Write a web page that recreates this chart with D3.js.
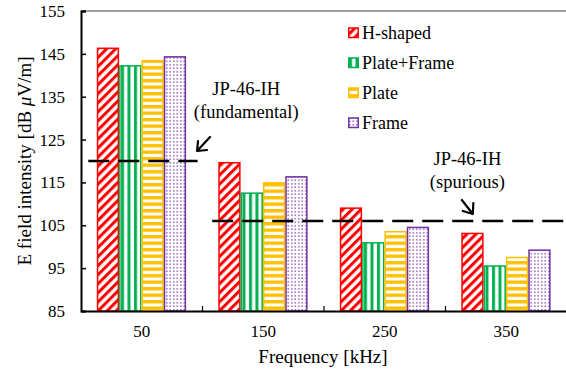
<!DOCTYPE html>
<html>
<head>
<meta charset="utf-8">
<script src="https://cdn.jsdelivr.net/npm/d3@7"></script>
<style>
	body { margin: 0; background: #fff; }
	svg { display: block; }
	svg text { font-family: 'Liberation Serif', 'Times New Roman', serif; }
</style>
</head>
<body>
<svg id="chart" width="566" height="375"></svg>
<script>
const categories = ['50', '150', '250', '350']
const seriesNames = ['H-shaped', 'Plate+Frame', 'Plate', 'Frame']
const hShaped = [146.3, 119.6, 109.0, 103.1]
const plateFrame = [142.2, 112.5, 100.9, 95.5]
const plate = [143.4, 114.9, 103.5, 97.5]
const frame = [144.3, 116.3, 104.5, 99.2]
const yTicks = [85, 95, 105, 115, 125, 135, 145, 155]
const limitValues = [120, 106] // JP-46-IH fundamental, spurious
const limitNames = ['(fundamental)', '(spurious)']

const colours = ['#ff0000', '#00b050', '#ffc000', '#7030a0']
const seriesValues = [hShaped, plateFrame, plate, frame]

const W = 566, H = 375
const margin = { left: 81, top: 11, right: -1, bottom: 64 }

const svg = d3.select('#chart')
const defs = svg.append('defs')

// bar fill patterns
const pRed = defs.append('pattern').attr('id', 'p0')
	.attr('patternUnits', 'userSpaceOnUse').attr('width', 6.4).attr('height', 6.4)
	.attr('patternTransform', 'rotate(45)')
pRed.append('rect').attr('width', 6.4).attr('height', 6.4).attr('fill', '#fff')
pRed.append('rect').attr('width', 3).attr('height', 6.4).attr('fill', colours[0])

const pGreen = defs.append('pattern').attr('id', 'p1')
	.attr('patternUnits', 'userSpaceOnUse').attr('width', 6.5).attr('height', 6.5)
pGreen.append('rect').attr('width', 6.5).attr('height', 6.5).attr('fill', '#fff')
pGreen.append('rect').attr('x', 1).attr('width', 3).attr('height', 6.5).attr('fill', colours[1])

const pYellow = defs.append('pattern').attr('id', 'p2')
	.attr('patternUnits', 'userSpaceOnUse').attr('width', 6.5).attr('height', 6.5)
pYellow.append('rect').attr('width', 6.5).attr('height', 6.5).attr('fill', '#fff')
pYellow.append('rect').attr('y', 1).attr('width', 6.5).attr('height', 3.4).attr('fill', colours[2])

const pPurple = defs.append('pattern').attr('id', 'p3')
	.attr('patternUnits', 'userSpaceOnUse').attr('width', 3.5).attr('height', 3.5)
pPurple.append('rect').attr('width', 3.5).attr('height', 3.5).attr('fill', '#fff')
pPurple.append('rect').attr('x', 1).attr('y', 1).attr('width', 1.6).attr('height', 1.6).attr('fill', '#9a6cc4')

const x0 = d3.scaleBand()
	.domain(categories)
	.range([margin.left, W - margin.right])
	.paddingInner(0).paddingOuter(0)

const bw = x0.bandwidth()
const x1 = d3.scaleBand()
	.domain(seriesNames)
	.range([bw * 0.13, bw * 0.865])
	.padding(0)

const y = d3.scaleLinear()
	.domain([85, 155])
	.range([H - margin.bottom, margin.top])

// top frame line
svg.append('line')
	.attr('x1', margin.left).attr('x2', W - margin.right)
	.attr('y1', y(155)).attr('y2', y(155))
	.attr('stroke', '#7f7f7f').attr('stroke-width', 1.5)

// bars
const groups = svg.append('g').selectAll('g')
	.data(categories)
	.enter()
	.append('g')
	.attr('transform', d => `translate(${x0(d)},0)`)

groups.selectAll('rect')
	.data((d, i) => seriesNames.map((s, j) => ({ s, j, v: seriesValues[j][i] })))
	.enter()
	.append('rect')
	.attr('x', d => x1(d.s) + 0.75)
	.attr('width', x1.bandwidth() - 1.5)
	.attr('y', d => y(d.v))
	.attr('height', d => y(85) - y(d.v))
	.attr('fill', d => `url(#p${d.j})`)
	.attr('stroke', d => colours[d.j])
	.attr('stroke-width', 1.5)

// y axis
const yAxis = svg.append('g')
	.attr('transform', `translate(${margin.left},0)`)
	.call(d3.axisLeft(y).tickValues(yTicks).tickSize(-5).tickPadding(16))
	.attr('font-family', null)
yAxis.select('.domain').attr('stroke-width', 2)
yAxis.selectAll('.tick line').attr('stroke-width', 1.5)
yAxis.selectAll('text').style('font-size', '17px').attr('fill', '#000')

// x axis
const xAxis = svg.append('g')
	.attr('transform', `translate(0,${y(85)})`)
	.call(d3.axisBottom(x0).tickSize(0).tickPadding(14))
	.attr('font-family', null)
xAxis.select('.domain').attr('stroke-width', 2)
xAxis.selectAll('text').style('font-size', '17px').attr('fill', '#000')

xAxis.selectAll('.sep')
	.data(categories.slice(1))
	.enter()
	.append('line')
	.attr('x1', d => x0(d)).attr('x2', d => x0(d))
	.attr('y1', 0).attr('y2', -5)
	.attr('stroke', '#000').attr('stroke-width', 1.2)

// limit lines
const limitSpans = [
	[x0('50') + bw * 0.06, x0('50') + bw * 0.96],
	[x0('150') + bw * 0.08, W - margin.right]
]
svg.append('g').selectAll('line')
	.data(limitValues)
	.enter()
	.append('line')
	.attr('x1', (d, i) => limitSpans[i][0])
	.attr('x2', (d, i) => limitSpans[i][1])
	.attr('y1', d => y(d)).attr('y2', d => y(d))
	.attr('stroke', '#000')
	.attr('stroke-width', 2.5)
	.attr('stroke-dasharray', '21,9')

// annotations
const notePos = [
	{ cx: x0('150') + bw * 0.36, top: y(155) + 84 },
	{ cx: x0('350') + bw * 0.18, top: y(155) + 154 }
]
const notes = svg.append('g').selectAll('text')
	.data(limitNames)
	.enter()
	.append('text')
	.attr('text-anchor', 'middle')
	.style('font-size', '18.5px')
notes.append('tspan')
	.attr('x', (d, i) => notePos[i].cx).attr('y', (d, i) => notePos[i].top)
	.text('JP-46-IH')
notes.append('tspan')
	.attr('x', (d, i) => notePos[i].cx).attr('y', (d, i) => notePos[i].top + 23)
	.text(d => d)

// arrows
const tipF = [x0('50') + bw * 0.955, y(limitValues[0]) - 10]
const tipS = [x0('350') + bw * 0.225, y(limitValues[1]) - 7]
const arrow = d3.path()
arrow.moveTo(tipF[0] + 13, tipF[1] - 14); arrow.lineTo(tipF[0], tipF[1])
arrow.moveTo(tipF[0] + 1, tipF[1] - 10); arrow.lineTo(tipF[0], tipF[1]); arrow.lineTo(tipF[0] + 10, tipF[1] - 1)
arrow.moveTo(tipS[0] - 11, tipS[1] - 14); arrow.lineTo(tipS[0], tipS[1])
arrow.moveTo(tipS[0] - 10, tipS[1] - 3); arrow.lineTo(tipS[0], tipS[1]); arrow.lineTo(tipS[0] + 0.5, tipS[1] - 11)
svg.append('path')
	.attr('d', arrow.toString())
	.attr('fill', 'none')
	.attr('stroke', '#000')
	.attr('stroke-width', 2.2)
	.attr('stroke-linecap', 'round')
	.attr('stroke-linejoin', 'round')

// legend
const legend = svg.append('g').selectAll('g')
	.data(seriesNames)
	.enter()
	.append('g')
	.attr('transform', (d, i) => `translate(348,${33 + i * 30})`)
legend.append('rect')
	.attr('x', 0.75).attr('y', -5)
	.attr('width', 9.5).attr('height', 9.5)
	.attr('fill', (d, i) => `url(#p${i})`)
	.attr('stroke', (d, i) => colours[i])
	.attr('stroke-width', 1.5)
legend.append('text')
	.attr('x', 14).attr('y', 0).attr('dy', '0.35em')
	.style('font-size', '18px')
	.text(d => d)

// axis titles
svg.append('text')
	.attr('x', 323).attr('y', 363)
	.attr('text-anchor', 'middle')
	.style('font-size', '19px')
	.text('Frequency [kHz]')

const yTitle = svg.append('text')
	.attr('transform', `translate(31,${(y(85) + y(155)) / 2}) rotate(-90)`)
	.attr('text-anchor', 'middle')
	.style('font-size', '19px')
yTitle.append('tspan').text('E field intensity [dB ')
yTitle.append('tspan').style('font-style', 'italic').text('μ')
yTitle.append('tspan').text('V/m]')
</script>
</body>
</html>
